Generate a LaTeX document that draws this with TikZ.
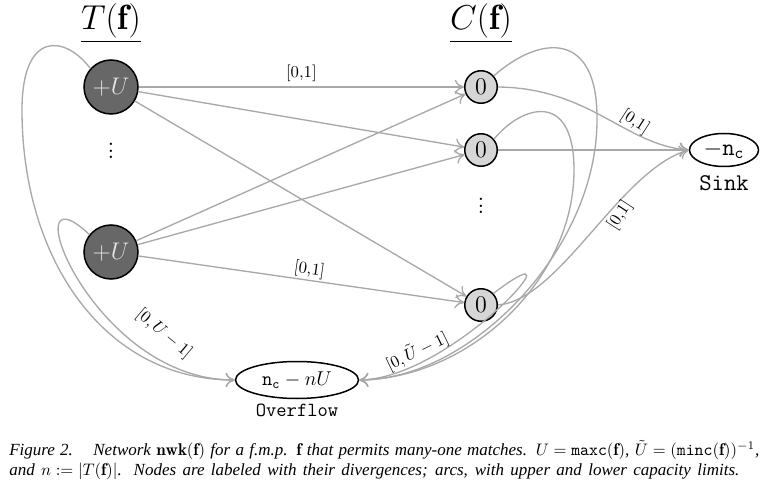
\documentclass[tikz,border=0pt]{standalone}
\usepackage{fontspec}
\usetikzlibrary{arrows.meta,shapes.geometric}
\newfontfamily\capfont{Liberation Serif}
\newcommand{\fixmu}{\thickmuskip=5mu\relax\medmuskip=4mu\relax}
\definecolor{edgegray}{HTML}{A8A8A8}
\definecolor{tfill}{HTML}{676767}
\definecolor{cfill}{HTML}{D6D6D6}
\definecolor{tlabel}{HTML}{E6E6E6}
\begin{document}
\begin{tikzpicture}[x=0.6pt,y=-0.6pt,
  tnode/.style={circle,draw=black,line width=0.9pt,fill=tfill,minimum size=32.4pt,inner sep=0pt,text=tlabel,font=\Large},
  cnode/.style={circle,draw=black,line width=0.9pt,fill=cfill,minimum size=19.5pt,inner sep=0pt,font=\Large},
  endnode/.style={ellipse,draw=black,line width=0.9pt,fill=white,inner sep=0pt},
  arc/.style={draw=edgegray,line width=0.8pt,-{To[length=5.5pt,width=8.5pt]}},
  lbl/.style={font=\normalsize,inner sep=1pt},
  head/.style={font=\fontsize{21}{25}\selectfont},
  dotsty/.style={font=\LARGE},
]
\useasboundingbox (0,0) rectangle (765,482);
% headers
\node[head] (th) at (111,23) {$\underline{T(\mathbf{f})}$};
\node[head] (ch) at (481,23) {$\underline{C(\mathbf{f})}$};
% nodes
\node[tnode] (t1) at (111,87) {$+U$};
\node[tnode] (t2) at (111,252) {$+U$};
\node[dotsty] (tdots) at (111,146) {$\vdots$};
\node[cnode] (c1) at (481,87) {$0$};
\node[cnode] (c2) at (481,150) {$0$};
\node[cnode] (c3) at (481,305) {$0$};
\node[dotsty] (cdots) at (481,201) {$\vdots$};
\node[endnode,minimum width=41.4pt,minimum height=19.8pt,font=\Large] (sink) at (724,150) {$-\mathtt{n}_\mathtt{c}$};
\node[font=\Large\ttfamily] (sinklbl) at (724,183) {Sink};
\node[endnode,minimum width=73.8pt,minimum height=22.2pt,font=\large] (ov) at (297,380) {$\mathtt{n}_\mathtt{c}-nU$};
\node[font=\large\ttfamily] (ovlbl) at (297,410) {Overflow};
% T -> C arcs
\draw[arc] (t1) -- node[lbl,above,yshift=2pt] (l1) {[0,1]} (c1);
\draw[arc] (t1) -- (c2);
\draw[arc] (t1) -- (c3);
\draw[arc] (t2) -- (c1);
\draw[arc] (t2) -- (c2);
\draw[arc] (t2) -- node[lbl,above,sloped,pos=0.52] (l2) {[0,1]} (c3);
% C -> sink
\draw[arc] (c1.east) .. controls (590,88) and (625,145) .. (sink.west);
\draw[arc] (c2) -- (sink.west);
\draw[arc] (c3.east) .. controls (560,300) and (620,170) .. (sink.west);
\node[lbl,rotate=-33] (l3) at (635,122) {[0,1]};
\node[lbl,rotate=57] (l4) at (620,215) {[0,1]};
% C -> overflow
\draw[arc] (c1.41) .. controls (540,35) and (598,30) .. (597,120) .. controls (597,250) and (470,380) .. (ov.east);
\draw[arc] (c2.40) .. controls (522,105) and (574,90) .. (574,170) .. controls (574,280) and (470,378) .. (ov.east);
\draw[arc] (c3.43) .. controls (590,220) and (455,378) .. (ov.east);
\node[lbl,rotate=26] (l5) at (417,351) {$[0,\tilde{U}-1]$};
% T -> overflow
\draw[arc] (t1.138) .. controls (65,35) and (22,30) .. (22,110) .. controls (22,260) and (105,380) .. (ov.west);
\draw[arc] (t2.141) .. controls (10,160) and (90,380) .. (ov.west);
\node[lbl,rotate=-40] (l6) at (164,334) {$[0,U-1]$};
% caption
\node[anchor=west,align=left,inner sep=0pt,font=\capfont\itshape\fontsize{10.2}{12}\selectfont] (cap) at (9,460)
 {\makebox[450pt][s]{\fixmu Figure 2.\hspace{1.2em}Network $\mathbf{nwk}(\mathbf{f})$ for a f.m.p. $\mathbf{f}$ that permits many-one matches. $U=\mathtt{maxc}(\mathbf{f})$, $\tilde{U}=(\mathtt{minc}(\mathbf{f}))^{-1}$,}\\
 \makebox[438pt][s]{\fixmu and $n:=|T(\mathbf{f})|$. Nodes are labeled with their divergences; arcs, with upper and lower capacity limits.}};
\end{tikzpicture}
\end{document}
